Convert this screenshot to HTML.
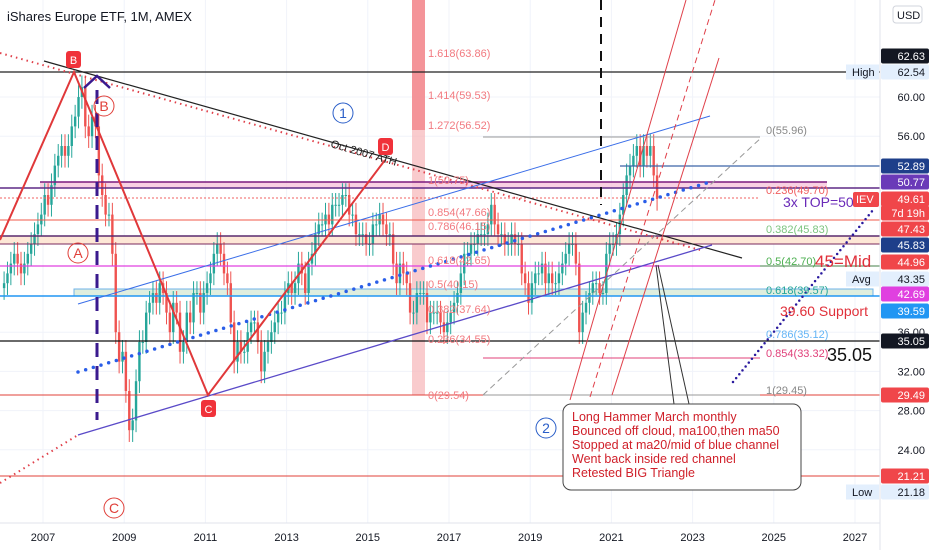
<!DOCTYPE html>
<html><head><meta charset="utf-8"><style>
html,body{margin:0;padding:0;background:#fff;}
svg{display:block;font-family:"Liberation Sans",sans-serif;}
</style></head><body>
<svg id="chart" width="932" height="550" viewBox="0 0 932 550" xmlns="http://www.w3.org/2000/svg">
<g id="grid"></g>
<rect x="412" y="0" width="13" height="395" fill="#f7b5b8" opacity="0.7"/>
<rect x="412" y="0" width="13" height="130" fill="#f06f77" opacity="0.6"/>
<g id="zones">
<rect x="40" y="182" width="787" height="6" fill="#f8c6dc" opacity="0.8"/>
<rect x="0" y="236" width="880" height="8" fill="#fde7d6"/>
<rect x="74" y="289" width="799" height="7" fill="#dfeede" stroke="#6fb3e8"/>
</g>
<g id="candles"></g>
<g id="draw" fill="none">
<line x1="0" y1="72" x2="880" y2="72" stroke="#222" stroke-width="1.2"/>
<line x1="40" y1="182" x2="827" y2="182" stroke="#7b1a7e" stroke-width="1.5"/>
<line x1="0" y1="188" x2="880" y2="188" stroke="#5e2a86" stroke-width="1.5"/>
<line x1="0" y1="198" x2="760" y2="198" stroke="#f06060" stroke-dasharray="2,2"/>
<line x1="620" y1="166" x2="880" y2="166" stroke="#3c64a8" stroke-width="1.2"/>
<line x1="0" y1="220" x2="880" y2="220" stroke="#f05a4a"/>
<line x1="0" y1="236" x2="880" y2="236" stroke="#5a2a6e" stroke-width="1.5"/>
<line x1="0" y1="244" x2="880" y2="244" stroke="#7a2a5e"/>
<line x1="0" y1="266" x2="880" y2="266" stroke="#e040e0" stroke-width="1.3"/>
<line x1="760" y1="266" x2="880" y2="266" stroke="#4caf50"/>
<line x1="0" y1="296" x2="880" y2="296" stroke="#2196f3" stroke-width="1.5"/>
<line x1="0" y1="341" x2="880" y2="341" stroke="#111" stroke-width="1.2"/>
<line x1="0" y1="395" x2="880" y2="395" stroke="#e0403a"/>
<line x1="0" y1="476" x2="880" y2="476" stroke="#e0403a"/>
<line x1="483" y1="137" x2="760" y2="137" stroke="#999"/>
<line x1="483" y1="358" x2="760" y2="358" stroke="#e0407a"/>
<line x1="483" y1="395" x2="760" y2="395" stroke="#999"/>
<line x1="44" y1="61" x2="742" y2="258" stroke="#222" stroke-width="1.2"/>
<line x1="0" y1="53" x2="700" y2="250" stroke="#e0404a" stroke-width="2" stroke-dasharray="1.5,4"/>
<line x1="78" y1="304" x2="710" y2="116" stroke="#3a6ee8"/>
<line x1="78" y1="372" x2="710" y2="182" stroke="#2a5ee8" stroke-width="3.5" stroke-dasharray="0,8" stroke-linecap="round"/>
<line x1="78" y1="435" x2="712" y2="245" stroke="#5a4ac8" stroke-width="1.3"/>
<line x1="0" y1="483" x2="78" y2="435" stroke="#e0404a" stroke-width="2" stroke-dasharray="1.5,4"/>
<polyline points="0,240 74,72 208,395 385,160" stroke="#e0383a" stroke-width="2"/>
<line x1="97" y1="90" x2="97" y2="420" stroke="#3a1a8e" stroke-width="3" stroke-dasharray="14,9"/>
<polyline points="84,88 97,76 110,88" stroke="#3a1a8e" stroke-width="2.5"/>
<line x1="601" y1="0" x2="601" y2="205" stroke="#111" stroke-width="2" stroke-dasharray="10,7"/>
<line x1="570" y1="400" x2="686" y2="0" stroke="#e0404a"/>
<line x1="612" y1="395" x2="719" y2="58" stroke="#e0404a"/>
<line x1="590" y1="397" x2="715" y2="0" stroke="#e0404a" stroke-dasharray="6,4"/>
<line x1="483" y1="395" x2="762" y2="137" stroke="#999" stroke-dasharray="6,4"/>
<line x1="733" y1="382" x2="873" y2="210" stroke="#2a1a9e" stroke-width="2.5" stroke-dasharray="0,5" stroke-linecap="round"/>
<line x1="674" y1="404" x2="656" y2="265" stroke="#333"/>
<line x1="689" y1="404" x2="658" y2="265" stroke="#333"/>
<rect x="563" y="404" width="238" height="86" rx="8" fill="#fff" stroke="#444"/>
</g>
<g id="labels" font-size="11">
<text x="7" y="21" font-size="13" fill="#131722">iShares Europe ETF, 1M, AMEX</text>
<g fill="#f27a80">
<text x="428" y="57">1.618(63.86)</text><text x="428" y="99">1.414(59.53)</text><text x="428" y="129">1.272(56.52)</text>
<text x="428" y="184">1(50.75)</text><text x="428" y="216">0.854(47.66)</text><text x="428" y="230">0.786(46.15)</text>
<text x="428" y="264">0.618(42.65)</text><text x="428" y="288">0.5(40.15)</text><text x="428" y="313">0.382(37.64)</text>
<text x="428" y="343">0.236(34.55)</text><text x="428" y="399">0(29.54)</text></g>
<text x="766" y="134" fill="#888">0(55.96)</text>
<text x="766" y="194" fill="#f06060">0.236(49.70)</text>
<text x="766" y="233" fill="#7cc47f">0.382(45.83)</text>
<text x="766" y="265" fill="#4caf50">0.5(42.70)</text>
<text x="766" y="294" fill="#26a69a">0.618(39.57)</text>
<text x="766" y="338" fill="#64b5f6">0.786(35.12)</text>
<text x="766" y="357" fill="#e0407a">0.854(33.32)</text>
<text x="766" y="394" fill="#888">1(29.45)</text>
<text x="330" y="147" fill="#222" font-size="11" transform="rotate(16 330 147)">Oct 2007 ATH</text>
<text x="783" y="207" fill="#6a2ab8" font-size="14">3x TOP=50</text>
<text x="815" y="267" fill="#e0303a" font-size="17">45=Mid</text>
<text x="780" y="316" fill="#e0303a" font-size="14">39.60 Support</text>
<text x="827" y="361" fill="#111" font-size="18">35.05</text>
<g font-size="14" text-anchor="middle" dominant-baseline="central">
<circle cx="343" cy="113" r="10" fill="none" stroke="#2a5ec8"/><text x="343" y="113" fill="#2a5ec8">1</text>
<circle cx="546" cy="428" r="10" fill="none" stroke="#2a5ec8"/><text x="546" y="428" fill="#2a5ec8">2</text>
<circle cx="78" cy="253" r="10" fill="none" stroke="#e0403a"/><text x="78" y="253" fill="#e0403a">A</text>
<circle cx="104" cy="106" r="10" fill="none" stroke="#e0403a"/><text x="104" y="106" fill="#e0403a">B</text>
<circle cx="114" cy="508" r="10" fill="none" stroke="#e0403a"/><text x="114" y="508" fill="#e0403a">C</text>
</g>
<g font-size="11" text-anchor="middle" fill="#fff">
<rect x="66" y="51" width="15" height="17" rx="3" fill="#f0323a"/><text x="73.5" y="64">B</text>
<rect x="378" y="138" width="15" height="17" rx="3" fill="#f0323a"/><text x="385.5" y="151">D</text>
<rect x="201" y="400" width="15" height="17" rx="3" fill="#f0323a"/><text x="208.5" y="413">C</text>
</g>
<g fill="#d0202a" font-size="12.5">
<text x="572" y="421">Long Hammer March monthly</text><text x="572" y="435">Bounced off cloud, ma100,then ma50</text>
<text x="572" y="449">Stopped at ma20/mid of blue channel</text><text x="572" y="463">Went back inside red channel</text>
<text x="572" y="477">Retested BIG Triangle</text></g>
</g>
<g id="axes"></g>
<script>
const monthStart = 2006.0;
const closes = [
41,42,43,44,43,42,43,44,45,46,47,48,
50,49,51,53,54,55,54,55,57,58,60,61,
57,56,58,57,52,50,48,48,44,36,33,34,
30,26,27,31,35,35,38,39,40,39,41,40,
38,36,39,38,34,35,38,37,40,40,38,40,
41,42,44,45,44,42,41,37,33,35,34,34,
36,37,37,35,32,34,35,36,37,38,38,40,
41,40,41,43,42,40,43,44,46,47,47,48,
47,49,49,49,50,50,48,48,46,46,46,45,
45,47,47,48,47,46,46,43,41,43,42,41,
38,38,40,40,40,37,38,38,38,37,36,37,
38,39,40,42,44,44,45,45,46,46,46,47,
49,47,46,46,45,45,46,45,45,42,41,39,
41,42,42,43,41,42,41,41,42,43,44,45,
45,43,36,38,39,40,41,41,40,40,44,45,
45,46,48,50,52,53,54,55,53,55,54,55,
52,49.6];
const yearTicks = [2007,2009,2011,2013,2015,2017,2019,2021,2023,2025,2027];
const priceTicks = [60,56,36,32,28,24];
const axisTags = [
 {v:"62.63",y:56,bg:"#131722",fg:"#fff"},{v:"62.54",y:72,bg:"#e3effd",fg:"#131722"},
 {v:"52.89",y:166,bg:"#1e3f8a",fg:"#fff"},{v:"50.77",y:182,bg:"#6a3ab8",fg:"#fff"},
 {v:"49.61",y:199,bg:"#f0464a",fg:"#fff"},{v:"7d 19h",y:213,bg:"#f0464a",fg:"#fff"},
 {v:"47.43",y:229,bg:"#f0464a",fg:"#fff"},{v:"45.83",y:245,bg:"#1e3f8a",fg:"#fff"},
 {v:"44.96",y:262,bg:"#f0464a",fg:"#fff"},{v:"43.35",y:279,bg:"#e3effd",fg:"#131722"},
 {v:"42.69",y:294,bg:"#e040e0",fg:"#fff"},{v:"39.59",y:311,bg:"#2196f3",fg:"#fff"},
 {v:"35.05",y:341,bg:"#131722",fg:"#fff"},{v:"29.49",y:395,bg:"#f0464a",fg:"#fff"},
 {v:"21.21",y:476,bg:"#f0464a",fg:"#fff"},{v:"21.18",y:492,bg:"#e3effd",fg:"#131722"}];
const NS="http://www.w3.org/2000/svg";
const xY = yr => 43 + (yr-2007)*40.6;
const yP = p => 97 + (60-p)*9.8;
function mk(tag, attrs, parent, text){const e=document.createElementNS(NS,tag);for(const k in attrs)e.setAttribute(k,attrs[k]);if(text!==undefined)e.textContent=text;parent.appendChild(e);return e;}
const grid=document.getElementById('grid');
yearTicks.forEach(y=>{const l=mk('line',{x1:xY(y),x2:xY(y),y1:0,y2:523,stroke:'#f0f3fa'},grid);

});
priceTicks.forEach(p=>{const l=mk('line',{x1:0,x2:880,y1:yP(p),y2:yP(p),stroke:'#f0f3fa'},grid);

});
const cg=document.getElementById('candles');
closes.forEach((c,i)=>{
 const o = i===0 ? c-0.5 : closes[i-1];
 const x = xY(monthStart + (i+0.5)/12);
 const up = c>=o, col = up ? '#26a69a' : '#ef5350';
 const hi=Math.max(o,c)+1.2, lo=Math.min(o,c)-1.2;
 const w=mk('line',{x1:x,x2:x,y1:yP(hi),y2:yP(lo),stroke:col},cg);
 
 
 const top=yP(Math.max(o,c)), h=Math.max(1,Math.abs(yP(o)-yP(c)));
 const b=mk('rect',{x:x-1.2,y:top,width:2.4,height:h,fill:col},cg);
 
 
});
const ax=document.getElementById('axes');
mk('rect',{x:880,y:0,width:52,height:550,fill:'#fff'},ax);
mk('line',{x1:880,x2:880,y1:0,y2:550,stroke:'#e0e3eb'},ax);
mk('line',{x1:0,x2:880,y1:523,y2:523,stroke:'#e0e3eb'},ax);
yearTicks.forEach(y=>{const t=mk('text',{x:xY(y),y:541,'font-size':11,'text-anchor':'middle',fill:'#131722'},ax,String(y));

});
priceTicks.forEach(p=>{const t=mk('text',{x:925,y:yP(p)+4,'font-size':11,'text-anchor':'end',fill:'#131722'},ax,p.toFixed(2));

});
axisTags.forEach(t=>{
 const r=mk('rect',{x:881,y:t.y-7.5,width:48,height:15,rx:2,fill:t.bg},ax);
 
 
 mk('text',{x:925,y:t.y+4,'font-size':11,'text-anchor':'end',fill:t.fg},ax,t.v);
});
[['High',72],['Avg',279],['Low',492]].forEach(a=>{mk('rect',{x:846,y:a[1]-7.5,width:33,height:15,fill:'#e3effd'},ax);
const t=mk('text',{x:852,y:a[1]+4,'font-size':11,fill:'#131722'},ax,a[0]);

});
const iev=mk('rect',{x:853,y:192,width:26,height:15,rx:2,fill:'#f0464a'},ax);


mk('text',{x:856,y:203,'font-size':11,fill:'#fff'},ax,'IEV');
const usd=mk('rect',{x:893,y:6,width:29,height:17,rx:3,fill:'#fff',stroke:'#d1d4dc'},ax);


mk('text',{x:897,y:19,'font-size':11,fill:'#131722'},ax,'USD');
</script>
</svg>
</body></html>
